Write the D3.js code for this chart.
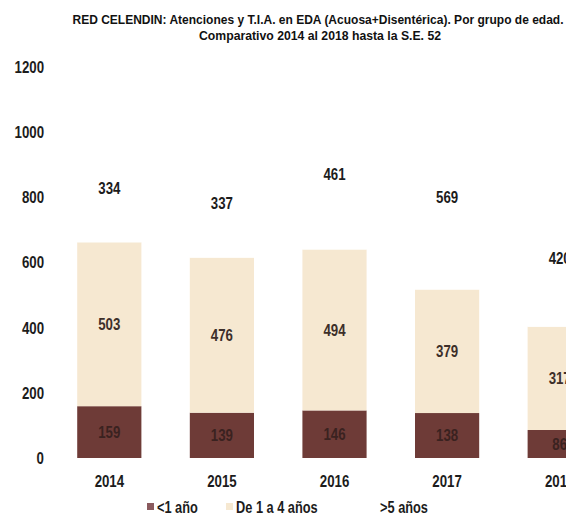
<!DOCTYPE html>
<html>
<head>
<meta charset="utf-8">
<script src="https://cdn.jsdelivr.net/npm/d3@7"></script>
<style>
body{margin:0;background:#fff;}
svg{display:block;overflow:hidden;}
text{font-family:"Liberation Sans",Arial,sans-serif;font-weight:bold;}
.narrow{transform-box:fill-box;transform-origin:center;transform:scaleX(0.78);}
.narrow-r{transform-box:fill-box;transform-origin:right center;transform:scaleX(0.78);}
.narrow-l{transform-box:fill-box;transform-origin:left center;transform:scaleX(0.8);}
</style>
</head>
<body>
<div class="chart"></div>
<script>
// datos por año
var years = ["2014","2015","2016","2017","2018"];
var menor1 = [159,139,146,138,86];
var de1a4 = [503,476,494,379,317];
var mayor5 = [334,337,461,569,420];
var series_names = ["<1 año","De 1 a 4 años",">5 años"];
var y_ticks = [0,200,400,600,800,1000,1200];

var W = 566, H = 524;
var colors = ["#6e3b37","#f6e8d1","#ffffff"];
var label_colors = ["#3a2220","#3d2f2a","#1c1c1c"];

var svg = d3.select("div.chart")
    .append("svg")
    .attr("width",W)
    .attr("height",H);

var x = d3.scaleBand()
    .domain(years)
    .range([53,616])
    .paddingInner(0.43)
    .paddingOuter(0.215);
var y = d3.scaleLinear()
    .domain([0,1200])
    .range([458,67]);

// titulo
svg.append("text")
    .text("RED CELENDIN: Atenciones y T.I.A. en EDA (Acuosa+Disentérica). Por grupo de edad.")
    .attr("x",318)
    .attr("y",24)
    .attr("text-anchor","middle")
    .attr("font-size","13px")
    .attr("textLength",491)
    .attr("lengthAdjust","spacingAndGlyphs")
    .attr("fill","#111");
svg.append("text")
    .text("Comparativo 2014 al 2018 hasta la S.E.  52")
    .attr("x",320)
    .attr("y",40)
    .attr("text-anchor","middle")
    .attr("font-size","13px")
    .attr("textLength",242)
    .attr("lengthAdjust","spacingAndGlyphs")
    .attr("fill","#111");

// eje y (solo etiquetas)
var yAxis = svg.append("g")
    .attr("transform","translate(44,0)")
    .call(d3.axisLeft(y).tickValues(y_ticks).tickFormat(d3.format("d")).tickSize(0).tickPadding(0));
yAxis.select(".domain").remove();
yAxis.selectAll("text")
    .attr("class","narrow-r")
    .attr("font-size","17px")
    .attr("fill","#1c1c1c")
    .attr("font-family",null);

// pila
var rows = years.map(function(d,i){
    return {year:d, s0:menor1[i], s1:de1a4[i], s2:mayor5[i]};
});
var stack = d3.stack().keys(["s0","s1","s2"])(rows);

var layers = svg.selectAll("g.layer")
    .data(stack)
    .enter().append("g")
    .attr("class","layer");
layers.selectAll("rect")
    .data(function(d){return d;})
    .enter().append("rect")
    .attr("x",function(d){return x(d.data.year);})
    .attr("width",x.bandwidth())
    .attr("y",function(d){return y(d[1]);})
    .attr("height",function(d){return y(d[0])-y(d[1]);})
    .attr("fill",function(d){return colors[d3.select(this.parentNode).datum().index];});
layers.each(function(layer){
    d3.select(this).selectAll("text")
        .data(layer)
        .enter().append("text")
        .attr("class","narrow")
        .text(function(d){return d[1]-d[0];})
        .attr("x",function(d){return x(d.data.year)+x.bandwidth()/2;})
        .attr("y",function(d){return y((d[0]+d[1])/2);})
        .attr("dy","0.35em")
        .attr("text-anchor","middle")
        .attr("font-size","17px")
        .attr("fill",label_colors[layer.index]);
});

// eje x
var xAxis = svg.append("g")
    .attr("transform","translate(0,470)")
    .call(d3.axisBottom(x).tickSize(0).tickPadding(0));
xAxis.select(".domain").remove();
xAxis.selectAll("text")
    .attr("class","narrow")
    .attr("dy","1em")
    .attr("font-size","17px")
    .attr("fill","#1c1c1c")
    .attr("font-family",null);

// leyenda
var legend_x = [147,226,380];
var legend = svg.selectAll("g.legend")
    .data(series_names)
    .enter().append("g")
    .attr("class","legend")
    .attr("transform",function(d,i){return "translate("+legend_x[i]+",507)";});
legend.append("rect")
    .attr("x",0)
    .attr("y",-4)
    .attr("width",7)
    .attr("height",7)
    .attr("fill",function(d,i){return i==0 ? "#8a5a5e" : colors[i];});
legend.append("text")
    .attr("class","narrow-l")
    .text(function(d){return d;})
    .attr("x",function(d,i){return i==2 ? 0 : 10;})
    .attr("y",0)
    .attr("dy","0.35em")
    .attr("font-size","16px")
    .attr("fill","#1c1c1c");
</script>
</body>
</html>
